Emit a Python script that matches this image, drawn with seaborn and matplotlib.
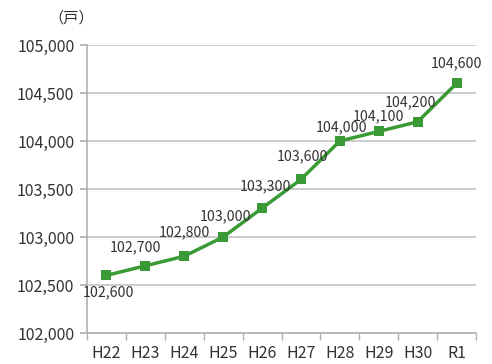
import matplotlib
matplotlib.use("Agg")
import matplotlib.pyplot as plt
import seaborn as sns
import pandas as pd
from matplotlib.ticker import FuncFormatter, MultipleLocator

years = ["H22", "H23", "H24", "H25", "H26", "H27", "H28", "H29", "H30", "R1"]
households = [102600, 102700, 102800, 103000, 103300, 103600, 104000, 104100, 104200, 104600]
label_offsets = [(2, -17), (-10, 19), (0, 24), (2, 21), (3, 22), (2, 23), (2, 14), (0, 15), (-7, 20), (0, 20)]

sns.set_theme(style="white")
plt.rcParams['font.family'] = ['Noto Sans CJK JP', 'DejaVu Sans']

df = pd.DataFrame({"year": years, "value": households})

fig = plt.figure(figsize=(4.92, 3.64), dpi=100)
ax = fig.add_axes([87/492, 1 - 333/364, (476-87)/492, (333-45)/364])

sns.lineplot(data=df, x="year", y="value", ax=ax, color="#3a9a35", linewidth=2.5,
             marker="s", markersize=7, markeredgewidth=0, sort=False)

ax.set_ylim(102000, 105000)
ax.set_xlim(-0.5, 9.5)
ax.yaxis.set_major_locator(MultipleLocator(500))
ax.yaxis.set_major_formatter(FuncFormatter(lambda v, p: f"{int(v):,}"))
ax.grid(axis="y", color="#c4c4c4", linewidth=1.2)
ax.set_axisbelow(True)
for s in ["top", "right"]:
    ax.spines[s].set_visible(False)
for s in ["left", "bottom"]:
    ax.spines[s].set_color("#b0b0b0")
    ax.spines[s].set_linewidth(1.2)

ax.set_xticks(range(len(years)))
ax.set_xticklabels(years)
ax.set_xticks([i - 0.5 for i in range(len(years) + 1)], minor=True)
ax.tick_params(axis="x", which="major", length=0, pad=9, labelsize=11.5, colors="#333333")
ax.tick_params(axis="x", which="minor", length=5, color="#b0b0b0", direction="out", bottom=True)
ax.tick_params(axis="y", which="major", length=5, color="#b0b0b0", direction="out", left=True,
               labelsize=11.5, colors="#333333", pad=4)
ax.set_xlabel("")
ax.set_ylabel("")

for i, (v, (dx, dy)) in enumerate(zip(households, label_offsets)):
    ax.annotate(f"{v:,}", (i, v), xytext=(dx, dy), textcoords="offset pixels",
                ha="center", va="center", fontsize=10.2, color="#333333")

fig.text(71/492, 1 - 18/364, "（戸）", ha="center", va="center", fontsize=11, color="#333333")

fig.savefig("out.png", dpi=100)
